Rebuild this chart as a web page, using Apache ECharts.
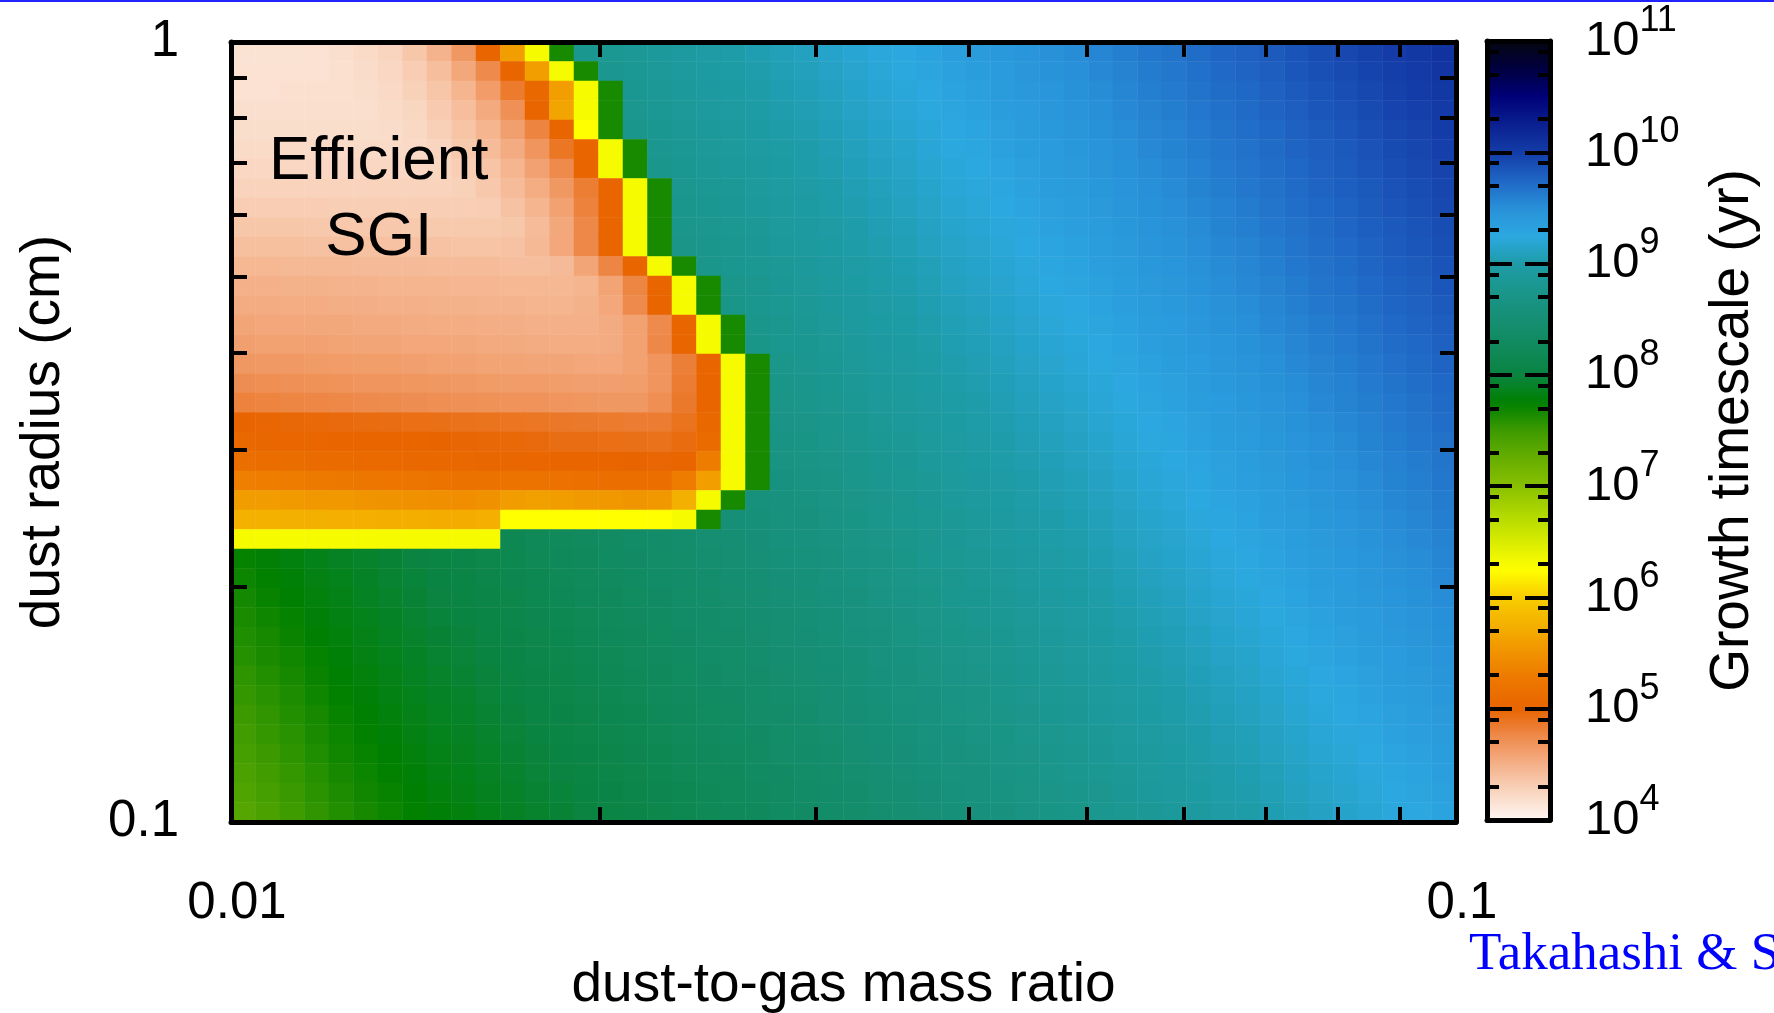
<!DOCTYPE html>
<html>
<head>
<meta charset="utf-8">
<script src="https://cdn.jsdelivr.net/npm/echarts/dist/echarts.min.js"></script>
<style>
html,body{margin:0;padding:0;background:#fff;}
#chart{width:1774px;height:1013px;}
</style>
</head>
<body>
<div id="chart"></div>
<script>
// ---------------- data ----------------
const ratioRange = [0.01, 0.1];          // dust-to-gas mass ratio (log axis)
const radiusRange = [0.1, 1];            // dust radius in cm (log axis)
const ratioTicks = [0.02, 0.03, 0.04, 0.05, 0.06, 0.07, 0.08, 0.09];
const radiusTicks = [0.2, 0.3, 0.4, 0.5, 0.6, 0.7, 0.8, 0.9];
const ratioLabels = [0.01, 0.1];
const radiusLabels = [0.1, 1];
const cbarExponents = [4, 5, 6, 7, 8, 9, 10, 11];   // colour bar: 10^4 .. 10^11 yr
const cbarMinorMantissas = [2, 5, 8];
const sgiLabelAt = [0.0132, 0.627];                  // (ratio, radius) of "Efficient SGI"
const paletteColors = ['#fef6f2','#f9d6c0','#f4b088','#ee8a4c','#e86400','#ed7600','#f09200','#f4b000',
  '#f8cc00','#ffff00','#d8ec00','#b0d800','#88c000','#66ae00','#3c9a00','#008000','#0a8440','#108a5c',
  '#168e74','#1a968a','#1e9ca8','#2ca8e0','#2890d8','#1f66c4','#143ca8','#0a2090','#000078','#000040','#050510'];

// log10(growth timescale / yr); rows from top (radius = 1 cm) to bottom (0.1 cm),
// columns from ratio 0.01 (left) to 0.1 (right)
const growthLogRows = [
[4.15,4.15,4.15,4.16,4.18,4.21,4.26,4.35,4.48,4.66,5.02,5.6,6.3,7.65,8.78,8.82,8.85,8.89,8.93,8.97,9.00,9.04,9.08,9.11,9.15,9.19,9.23,9.26,9.30,9.34,9.37,9.41,9.45,9.49,9.52,9.56,9.60,9.64,9.67,9.71,9.75,9.78,9.82,9.86,9.90,9.93,9.97,10.01,10.04,10.08],
[4.16,4.16,4.16,4.16,4.17,4.20,4.24,4.31,4.41,4.55,4.75,5.02,5.6,6.3,7.65,8.80,8.83,8.87,8.91,8.95,8.98,9.02,9.06,9.09,9.13,9.17,9.21,9.24,9.28,9.32,9.35,9.39,9.43,9.47,9.50,9.54,9.58,9.62,9.65,9.69,9.73,9.76,9.80,9.84,9.88,9.91,9.95,9.99,10.02,10.06],
[4.16,4.16,4.17,4.17,4.17,4.19,4.22,4.28,4.36,4.47,4.63,4.85,5.05,5.6,6.3,7.65,8.81,8.85,8.89,8.93,8.96,9.00,9.04,9.07,9.11,9.15,9.19,9.22,9.26,9.30,9.33,9.37,9.41,9.45,9.48,9.52,9.56,9.60,9.63,9.67,9.71,9.74,9.78,9.82,9.86,9.89,9.93,9.97,10.00,10.04],
[4.18,4.18,4.18,4.18,4.18,4.18,4.21,4.25,4.32,4.41,4.54,4.71,5.02,5.65,6.3,7.65,8.79,8.83,8.87,8.91,8.94,8.98,9.02,9.05,9.09,9.13,9.17,9.20,9.24,9.28,9.31,9.35,9.39,9.43,9.46,9.50,9.54,9.58,9.61,9.65,9.69,9.72,9.76,9.80,9.84,9.87,9.91,9.95,9.98,10.02],
[4.19,4.19,4.19,4.19,4.19,4.19,4.20,4.23,4.29,4.37,4.47,4.61,4.79,5.02,6.25,7.65,8.77,8.81,8.85,8.89,8.92,8.96,9.00,9.03,9.07,9.11,9.15,9.18,9.22,9.26,9.29,9.33,9.37,9.41,9.44,9.48,9.52,9.56,9.59,9.63,9.67,9.70,9.74,9.78,9.82,9.85,9.89,9.93,9.96,10.00],
[4.21,4.21,4.21,4.21,4.21,4.21,4.21,4.22,4.26,4.33,4.42,4.53,4.68,4.88,5.02,6.3,7.65,8.79,8.83,8.87,8.90,8.94,8.98,9.01,9.05,9.09,9.13,9.16,9.20,9.24,9.27,9.31,9.35,9.39,9.42,9.46,9.50,9.54,9.57,9.61,9.65,9.68,9.72,9.76,9.80,9.83,9.87,9.91,9.94,9.98],
[4.24,4.24,4.24,4.24,4.24,4.24,4.24,4.24,4.25,4.30,4.37,4.47,4.59,4.75,5.02,6.3,7.65,8.77,8.81,8.85,8.88,8.92,8.96,8.99,9.03,9.07,9.11,9.14,9.18,9.22,9.25,9.29,9.33,9.37,9.40,9.44,9.48,9.52,9.55,9.59,9.63,9.66,9.70,9.74,9.78,9.81,9.85,9.89,9.92,9.96],
[4.27,4.27,4.27,4.27,4.27,4.27,4.27,4.27,4.27,4.28,4.34,4.42,4.52,4.66,4.83,5.02,6.3,7.65,8.79,8.83,8.86,8.90,8.94,8.97,9.01,9.05,9.09,9.12,9.16,9.20,9.23,9.27,9.31,9.35,9.38,9.42,9.46,9.50,9.53,9.57,9.61,9.64,9.68,9.72,9.76,9.79,9.83,9.87,9.90,9.94],
[4.31,4.31,4.31,4.31,4.30,4.30,4.30,4.30,4.30,4.30,4.31,4.38,4.47,4.60,4.80,5.02,6.3,7.65,8.77,8.81,8.84,8.88,8.92,8.95,8.99,9.03,9.07,9.10,9.14,9.18,9.21,9.25,9.29,9.33,9.36,9.40,9.44,9.48,9.51,9.55,9.59,9.62,9.66,9.70,9.74,9.77,9.81,9.85,9.88,9.92],
[4.35,4.35,4.35,4.34,4.34,4.34,4.34,4.33,4.33,4.33,4.33,4.35,4.42,4.55,4.76,5.02,6.3,7.65,8.75,8.79,8.82,8.86,8.90,8.93,8.97,9.01,9.05,9.08,9.12,9.16,9.19,9.23,9.27,9.31,9.34,9.38,9.42,9.46,9.49,9.53,9.57,9.60,9.64,9.68,9.72,9.75,9.79,9.83,9.86,9.90],
[4.40,4.40,4.40,4.39,4.39,4.39,4.38,4.38,4.38,4.37,4.37,4.38,4.44,4.56,4.76,5.02,6.3,7.65,8.73,8.77,8.80,8.84,8.88,8.91,8.95,8.99,9.03,9.06,9.10,9.14,9.17,9.21,9.25,9.29,9.32,9.36,9.40,9.44,9.47,9.51,9.55,9.58,9.62,9.66,9.70,9.73,9.77,9.81,9.84,9.88],
[4.45,4.45,4.44,4.44,4.44,4.43,4.43,4.43,4.42,4.42,4.42,4.41,4.41,4.43,4.57,4.78,5.02,6.3,7.65,8.75,8.78,8.82,8.86,8.89,8.93,8.97,9.01,9.04,9.08,9.12,9.15,9.19,9.23,9.27,9.30,9.34,9.38,9.42,9.45,9.49,9.53,9.56,9.60,9.64,9.68,9.71,9.75,9.79,9.82,9.86],
[4.50,4.50,4.49,4.49,4.48,4.48,4.47,4.47,4.47,4.46,4.46,4.45,4.45,4.45,4.47,4.58,4.78,5.02,6.3,7.65,8.76,8.80,8.84,8.87,8.91,8.95,8.99,9.02,9.06,9.10,9.13,9.17,9.21,9.25,9.28,9.32,9.36,9.40,9.43,9.47,9.51,9.54,9.58,9.62,9.66,9.69,9.73,9.77,9.80,9.84],
[4.53,4.53,4.52,4.52,4.51,4.51,4.50,4.50,4.49,4.49,4.48,4.48,4.47,4.47,4.49,4.56,4.75,5.02,6.3,7.65,8.74,8.78,8.82,8.85,8.89,8.93,8.97,9.00,9.04,9.08,9.11,9.15,9.19,9.23,9.26,9.30,9.34,9.38,9.41,9.45,9.49,9.52,9.56,9.60,9.64,9.67,9.71,9.75,9.78,9.82],
[4.57,4.56,4.56,4.55,4.55,4.54,4.54,4.53,4.52,4.52,4.51,4.51,4.50,4.50,4.50,4.53,4.60,4.75,5.02,6.3,7.65,8.76,8.80,8.83,8.87,8.91,8.95,8.98,9.02,9.06,9.09,9.13,9.17,9.21,9.24,9.28,9.32,9.36,9.39,9.43,9.47,9.50,9.54,9.58,9.62,9.65,9.69,9.73,9.76,9.80],
[4.61,4.60,4.60,4.59,4.58,4.57,4.57,4.56,4.56,4.55,4.54,4.54,4.53,4.52,4.52,4.53,4.60,4.76,5.02,6.3,7.65,8.74,8.78,8.81,8.85,8.89,8.93,8.96,9.00,9.04,9.07,9.11,9.15,9.19,9.22,9.26,9.30,9.34,9.37,9.41,9.45,9.48,9.52,9.56,9.60,9.63,9.67,9.71,9.74,9.78],
[4.66,4.65,4.65,4.64,4.63,4.62,4.62,4.61,4.60,4.59,4.58,4.58,4.57,4.57,4.56,4.56,4.60,4.68,4.82,5.02,6.3,7.65,8.76,8.79,8.83,8.87,8.91,8.94,8.98,9.02,9.05,9.09,9.13,9.17,9.20,9.24,9.28,9.32,9.35,9.39,9.43,9.46,9.50,9.54,9.58,9.61,9.65,9.69,9.72,9.76],
[4.73,4.72,4.71,4.70,4.69,4.68,4.68,4.67,4.66,4.65,4.64,4.63,4.63,4.62,4.61,4.61,4.62,4.68,4.84,5.02,6.3,7.65,8.74,8.77,8.81,8.85,8.89,8.92,8.96,9.00,9.03,9.07,9.11,9.15,9.18,9.22,9.26,9.30,9.33,9.37,9.41,9.44,9.48,9.52,9.56,9.59,9.63,9.67,9.70,9.74],
[4.80,4.79,4.78,4.77,4.76,4.75,4.74,4.73,4.72,4.71,4.70,4.69,4.69,4.68,4.67,4.66,4.66,4.72,4.86,5.02,6.3,7.65,8.72,8.75,8.79,8.83,8.87,8.90,8.94,8.98,9.01,9.05,9.09,9.13,9.16,9.20,9.24,9.28,9.31,9.35,9.39,9.42,9.46,9.50,9.54,9.57,9.61,9.65,9.68,9.72],
[5.00,4.99,4.98,4.97,4.96,4.95,4.94,4.93,4.92,4.91,4.90,4.89,4.88,4.87,4.86,4.85,4.84,4.84,4.90,5.05,6.3,7.65,8.70,8.73,8.77,8.81,8.85,8.88,8.92,8.96,8.99,9.03,9.07,9.11,9.14,9.18,9.22,9.26,9.29,9.33,9.37,9.40,9.44,9.48,9.52,9.55,9.59,9.63,9.66,9.70],
[5.05,5.04,5.03,5.03,5.02,5.02,5.02,5.02,5.00,4.99,4.98,4.97,4.96,4.94,4.94,4.93,4.92,4.91,4.95,5.10,6.3,7.65,8.68,8.71,8.75,8.79,8.83,8.86,8.90,8.94,8.97,9.01,9.05,9.09,9.12,9.16,9.20,9.24,9.27,9.31,9.35,9.38,9.42,9.46,9.50,9.53,9.57,9.61,9.64,9.68],
[5.15,5.13,5.12,5.11,5.10,5.09,5.08,5.07,5.06,5.05,5.04,5.04,5.03,5.02,5.02,5.02,5.00,4.99,5.02,5.30,6.3,7.65,8.66,8.69,8.73,8.77,8.81,8.84,8.88,8.92,8.95,8.99,9.03,9.07,9.10,9.14,9.18,9.22,9.25,9.29,9.33,9.36,9.40,9.44,9.48,9.51,9.55,9.59,9.62,9.66],
[5.33,5.31,5.30,5.28,5.27,5.25,5.24,5.22,5.21,5.19,5.19,5.21,5.21,5.18,5.16,5.14,5.14,5.15,5.30,5.60,6.3,7.65,8.64,8.67,8.71,8.75,8.79,8.82,8.86,8.90,8.93,8.97,9.01,9.05,9.08,9.12,9.16,9.20,9.23,9.27,9.31,9.34,9.38,9.42,9.46,9.49,9.53,9.57,9.60,9.64],
[5.59,5.58,5.57,5.55,5.54,5.52,5.51,5.49,5.48,5.46,5.50,5.58,5.61,5.59,5.56,5.54,5.52,5.55,5.75,6.3,7.65,8.58,8.62,8.65,8.69,8.73,8.77,8.80,8.84,8.88,8.91,8.95,8.99,9.03,9.06,9.10,9.14,9.18,9.21,9.25,9.29,9.32,9.36,9.40,9.44,9.47,9.51,9.55,9.58,9.62],
[5.76,5.76,5.75,5.75,5.74,5.74,5.73,5.73,5.72,5.72,5.74,6.25,6.25,6.25,6.25,6.25,6.25,6.25,6.3,7.65,8.52,8.56,8.60,8.63,8.67,8.71,8.75,8.78,8.82,8.86,8.89,8.93,8.97,9.01,9.04,9.08,9.12,9.16,9.19,9.23,9.27,9.30,9.34,9.38,9.42,9.45,9.49,9.53,9.56,9.60],
[6.3,6.3,6.3,6.3,6.3,6.3,6.3,6.3,6.3,6.3,6.3,8.17,8.21,8.24,8.28,8.32,8.35,8.39,8.43,8.47,8.50,8.54,8.58,8.61,8.65,8.69,8.73,8.76,8.80,8.84,8.87,8.91,8.95,8.99,9.02,9.06,9.10,9.14,9.17,9.21,9.25,9.28,9.32,9.36,9.40,9.43,9.47,9.51,9.54,9.58],
[7.73,7.77,7.81,7.85,7.89,7.92,7.96,8.00,8.04,8.07,8.11,8.15,8.19,8.22,8.26,8.30,8.33,8.37,8.41,8.45,8.48,8.52,8.56,8.59,8.63,8.67,8.71,8.74,8.78,8.82,8.85,8.89,8.93,8.97,9.00,9.04,9.08,9.12,9.15,9.19,9.23,9.26,9.30,9.34,9.38,9.41,9.45,9.49,9.52,9.56],
[7.70,7.74,7.78,7.82,7.86,7.90,7.94,7.98,8.02,8.05,8.09,8.13,8.17,8.20,8.24,8.28,8.31,8.35,8.39,8.43,8.46,8.50,8.54,8.57,8.61,8.65,8.69,8.72,8.76,8.80,8.83,8.87,8.91,8.95,8.98,9.02,9.06,9.10,9.13,9.17,9.21,9.24,9.28,9.32,9.36,9.39,9.43,9.47,9.50,9.54],
[7.67,7.72,7.76,7.80,7.84,7.88,7.92,7.96,8.00,8.03,8.07,8.11,8.15,8.18,8.22,8.26,8.29,8.33,8.37,8.41,8.44,8.48,8.52,8.55,8.59,8.63,8.67,8.70,8.74,8.78,8.81,8.85,8.89,8.93,8.96,9.00,9.04,9.08,9.11,9.15,9.19,9.22,9.26,9.30,9.34,9.37,9.41,9.45,9.48,9.52],
[7.64,7.69,7.73,7.78,7.82,7.86,7.90,7.94,7.98,8.01,8.05,8.09,8.13,8.16,8.20,8.24,8.27,8.31,8.35,8.39,8.42,8.46,8.50,8.53,8.57,8.61,8.65,8.68,8.72,8.76,8.79,8.83,8.87,8.91,8.94,8.98,9.02,9.06,9.09,9.13,9.17,9.20,9.24,9.28,9.32,9.35,9.39,9.43,9.46,9.50],
[7.62,7.66,7.71,7.76,7.80,7.84,7.88,7.92,7.96,7.99,8.03,8.07,8.11,8.14,8.18,8.22,8.25,8.29,8.33,8.37,8.40,8.44,8.48,8.51,8.55,8.59,8.63,8.66,8.70,8.74,8.77,8.81,8.85,8.89,8.92,8.96,9.00,9.04,9.07,9.11,9.15,9.18,9.22,9.26,9.30,9.33,9.37,9.41,9.44,9.48],
[7.59,7.64,7.68,7.73,7.78,7.82,7.86,7.90,7.94,7.97,8.01,8.05,8.09,8.12,8.16,8.20,8.23,8.27,8.31,8.35,8.38,8.42,8.46,8.49,8.53,8.57,8.61,8.64,8.68,8.72,8.75,8.79,8.83,8.87,8.90,8.94,8.98,9.02,9.05,9.09,9.13,9.16,9.20,9.24,9.28,9.31,9.35,9.39,9.42,9.46],
[7.56,7.61,7.66,7.71,7.76,7.80,7.84,7.88,7.92,7.95,7.99,8.03,8.07,8.10,8.14,8.18,8.21,8.25,8.29,8.33,8.36,8.40,8.44,8.47,8.51,8.55,8.59,8.62,8.66,8.70,8.73,8.77,8.81,8.85,8.88,8.92,8.96,9.00,9.03,9.07,9.11,9.14,9.18,9.22,9.26,9.29,9.33,9.37,9.40,9.44],
[7.53,7.58,7.63,7.69,7.74,7.78,7.82,7.86,7.90,7.93,7.97,8.01,8.05,8.08,8.12,8.16,8.19,8.23,8.27,8.31,8.34,8.38,8.42,8.45,8.49,8.53,8.57,8.60,8.64,8.68,8.71,8.75,8.79,8.83,8.86,8.90,8.94,8.98,9.01,9.05,9.09,9.12,9.16,9.20,9.24,9.27,9.31,9.35,9.38,9.42],
[7.50,7.55,7.61,7.66,7.72,7.76,7.80,7.84,7.88,7.91,7.95,7.99,8.03,8.06,8.10,8.14,8.17,8.21,8.25,8.29,8.32,8.36,8.40,8.43,8.47,8.51,8.55,8.58,8.62,8.66,8.69,8.73,8.77,8.81,8.84,8.88,8.92,8.96,8.99,9.03,9.07,9.10,9.14,9.18,9.22,9.25,9.29,9.33,9.36,9.40],
[7.47,7.53,7.58,7.64,7.70,7.74,7.78,7.82,7.86,7.89,7.93,7.97,8.01,8.04,8.08,8.12,8.15,8.19,8.23,8.27,8.30,8.34,8.38,8.41,8.45,8.49,8.53,8.56,8.60,8.64,8.67,8.71,8.75,8.79,8.82,8.86,8.90,8.94,8.97,9.01,9.05,9.08,9.12,9.16,9.20,9.23,9.27,9.31,9.34,9.38],
[7.44,7.50,7.56,7.62,7.68,7.72,7.76,7.80,7.84,7.87,7.91,7.95,7.99,8.02,8.06,8.10,8.13,8.17,8.21,8.25,8.28,8.32,8.36,8.39,8.43,8.47,8.51,8.54,8.58,8.62,8.65,8.69,8.73,8.77,8.80,8.84,8.88,8.92,8.95,8.99,9.03,9.06,9.10,9.14,9.18,9.21,9.25,9.29,9.32,9.36],
[7.41,7.47,7.53,7.59,7.66,7.70,7.74,7.78,7.82,7.85,7.89,7.93,7.97,8.00,8.04,8.08,8.11,8.15,8.19,8.23,8.26,8.30,8.34,8.37,8.41,8.45,8.49,8.52,8.56,8.60,8.63,8.67,8.71,8.75,8.78,8.82,8.86,8.90,8.93,8.97,9.01,9.04,9.08,9.12,9.16,9.19,9.23,9.27,9.30,9.34],
[7.38,7.44,7.51,7.57,7.63,7.68,7.72,7.76,7.80,7.83,7.87,7.91,7.95,7.98,8.02,8.06,8.09,8.13,8.17,8.21,8.24,8.28,8.32,8.35,8.39,8.43,8.47,8.50,8.54,8.58,8.61,8.65,8.69,8.73,8.76,8.80,8.84,8.88,8.91,8.95,8.99,9.02,9.06,9.10,9.14,9.17,9.21,9.25,9.28,9.32],
[7.35,7.41,7.48,7.55,7.61,7.66,7.70,7.74,7.78,7.81,7.85,7.89,7.93,7.96,8.00,8.04,8.07,8.11,8.15,8.19,8.22,8.26,8.30,8.33,8.37,8.41,8.45,8.48,8.52,8.56,8.59,8.63,8.67,8.71,8.74,8.78,8.82,8.86,8.89,8.93,8.97,9.00,9.04,9.08,9.12,9.15,9.19,9.23,9.26,9.30]
];

// ---------------- build ----------------
const FONT = '"Liberation Sans", Arial, Helvetica, sans-serif';
const nRows = growthLogRows.length;
const nCols = growthLogRows[0].length;
const xDecades = Math.log10(ratioRange[1] / ratioRange[0]);
const yDecades = Math.log10(radiusRange[1] / radiusRange[0]);
const xCats = Array.from({length: nCols}, (_, i) =>
  (ratioRange[0] * Math.pow(10, (i + 0.5) / nCols * xDecades)).toPrecision(4));
const yCats = Array.from({length: nRows}, (_, j) =>
  (radiusRange[0] * Math.pow(10, (j + 0.5) / nRows * yDecades)).toPrecision(4));
const heatData = [];
growthLogRows.forEach((row, r) => {
  const j = nRows - 1 - r;
  row.forEach((v, i) => heatData.push([i, j, v]));
});
const toU = x => Math.log10(x / ratioRange[0]) / xDecades;
const toV = y => Math.log10(y / radiusRange[0]) / yDecades;
const xTickPos = ratioTicks.map(toU);
const yTickPos = radiusTicks.map(toV);
const xLabelPos = ratioLabels.map(toU);
const yLabelPos = radiusLabels.map(toV);
const fmtRatio = u => String(+(ratioRange[0] * Math.pow(10, u * xDecades)).toPrecision(3));
const fmtRadius = v => String(+(radiusRange[0] * Math.pow(10, v * yDecades)).toPrecision(3));
const cbarMinorPos = [];
cbarExponents.slice(0, -1).forEach(e => cbarMinorMantissas.forEach(m => cbarMinorPos.push(e + Math.log10(m))));

const PLOT = {left: 231, top: 42, width: 1225, height: 780, containLabel: false, outerBoundsMode: 'none'};
const CBAR = {left: 1487, top: 41, width: 63, height: 779, containLabel: false, outerBoundsMode: 'none'};

const lineStyle = {color: '#000', width: 5};
const tickStyle = {color: '#000', width: 4};
const frameAxis = (extra) => Object.assign({
  type: 'value', gridIndex: 1, min: 0, max: 1, z: 10,
  axisLine: {show: true, onZero: false, lineStyle: lineStyle},
  splitLine: {show: false}
}, extra);

const option = {
  animation: false,
  backgroundColor: '#fff',
  textStyle: {fontFamily: FONT},
  grid: [
    Object.assign({}, PLOT),
    Object.assign({}, PLOT),
    Object.assign({}, CBAR),
    Object.assign({}, CBAR)
  ],
  xAxis: [
    {type: 'category', gridIndex: 0, data: xCats, show: false},
    frameAxis({
      position: 'bottom',
      axisTick: {show: true, inside: true, length: 15, lineStyle: tickStyle, customValues: xTickPos},
      axisLabel: {show: true, customValues: xLabelPos, formatter: fmtRatio, margin: 56,
        padding: [0, 0, 0, 12], fontSize: 51, color: '#000', fontFamily: FONT},
      name: 'dust-to-gas mass ratio', nameLocation: 'middle', nameGap: 136,
      nameTextStyle: {fontSize: 55, color: '#000', fontFamily: FONT}
    }),
    frameAxis({
      position: 'top',
      axisTick: {show: true, inside: true, length: 15, lineStyle: tickStyle, customValues: xTickPos},
      axisLabel: {show: false}
    }),
    {type: 'value', gridIndex: 2, min: 0, max: 1, position: 'bottom', z: 10,
      axisLine: {show: true, onZero: false, lineStyle: lineStyle}, axisTick: {show: false},
      axisLabel: {show: false}, splitLine: {show: false}},
    {type: 'value', gridIndex: 2, min: 0, max: 1, position: 'top', z: 10,
      axisLine: {show: true, onZero: false, lineStyle: lineStyle}, axisTick: {show: false},
      axisLabel: {show: false}, splitLine: {show: false}},
    {type: 'value', gridIndex: 3, min: 0, max: 1, show: false}
  ],
  yAxis: [
    {type: 'category', gridIndex: 0, data: yCats, show: false},
    frameAxis({
      position: 'left',
      axisTick: {show: true, inside: true, length: 16, lineStyle: tickStyle, customValues: yTickPos},
      axisLabel: {show: true, customValues: yLabelPos, formatter: fmtRadius, margin: 52,
        fontSize: 51, color: '#000', fontFamily: FONT},
      name: 'dust radius (cm)', nameLocation: 'middle', nameRotate: 90, nameGap: 160,
      nameTextStyle: {fontSize: 55, color: '#000', fontFamily: FONT}
    }),
    frameAxis({
      position: 'right',
      axisTick: {show: true, inside: true, length: 16, lineStyle: tickStyle, customValues: yTickPos},
      axisLabel: {show: false}
    }),
    {type: 'value', gridIndex: 2, min: 4, max: 11, interval: 1, position: 'left', z: 10,
      axisLine: {show: true, onZero: false, lineStyle: lineStyle},
      axisTick: {show: true, inside: true, length: 25, lineStyle: tickStyle},
      axisLabel: {show: false}, splitLine: {show: false}},
    {type: 'value', gridIndex: 2, min: 4, max: 11, interval: 1, position: 'right', z: 10,
      axisLine: {show: true, onZero: false, lineStyle: lineStyle},
      axisTick: {show: true, inside: true, length: 25, lineStyle: tickStyle},
      axisLabel: {show: true, margin: 35, formatter: v => '{b|10}{s|' + v + '}',
        rich: {
          b: {fontSize: 49, lineHeight: 76, color: '#000', fontFamily: FONT},
          s: {fontSize: 36, lineHeight: 36, verticalAlign: 'top', color: '#000', fontFamily: FONT}
        }},
      splitLine: {show: false},
      name: 'Growth timescale (yr)', nameLocation: 'middle', nameRotate: 90, nameGap: 155,
      nameTextStyle: {fontSize: 55, color: '#000', fontFamily: FONT}},
    {type: 'value', gridIndex: 3, min: 4, max: 11, position: 'left', z: 10,
      axisLine: {show: false},
      axisTick: {show: true, inside: true, length: 12, lineStyle: tickStyle, customValues: cbarMinorPos},
      axisLabel: {show: false}, splitLine: {show: false}},
    {type: 'value', gridIndex: 3, min: 4, max: 11, position: 'right', z: 10,
      axisLine: {show: false},
      axisTick: {show: true, inside: true, length: 12, lineStyle: tickStyle, customValues: cbarMinorPos},
      axisLabel: {show: false}, splitLine: {show: false}}
  ],
  visualMap: {
    type: 'continuous', min: 4, max: 11, dimension: 2, seriesIndex: 0,
    calculable: false, hoverLink: false, realtime: false,
    orient: 'vertical', left: 1487, top: 41,
    itemWidth: 63, itemHeight: 779, padding: 0,
    inRange: {color: paletteColors}
  },
  series: [
    {type: 'heatmap', xAxisIndex: 0, yAxisIndex: 0, data: heatData, silent: true,
      progressive: 0, itemStyle: {borderWidth: 0}, emphasis: {disabled: true}},
    {type: 'scatter', xAxisIndex: 1, yAxisIndex: 1, silent: true, z: 20,
      data: [[toU(sgiLabelAt[0]), toV(sgiLabelAt[1])]], symbolSize: 0,
      itemStyle: {opacity: 1},
      label: {show: true, position: 'inside', formatter: 'Efficient\nSGI', fontSize: 62,
        lineHeight: 76, color: '#000', opacity: 1, fontFamily: FONT, align: 'center'}}
  ],
  graphic: [
    {type: 'rect', left: 0, top: 0, shape: {width: 1774, height: 2}, style: {fill: '#2222ff'}, silent: true},
    {type: 'text', left: 1469, top: 929, silent: true,
      style: {text: 'Takahashi & S', fill: '#0000ff', font: '53px "Liberation Serif", "Times New Roman", serif'}}
  ]
};

const chart = echarts.init(document.getElementById('chart'), null, {renderer: 'canvas'});
chart.setOption(option);
</script>
</body>
</html>
